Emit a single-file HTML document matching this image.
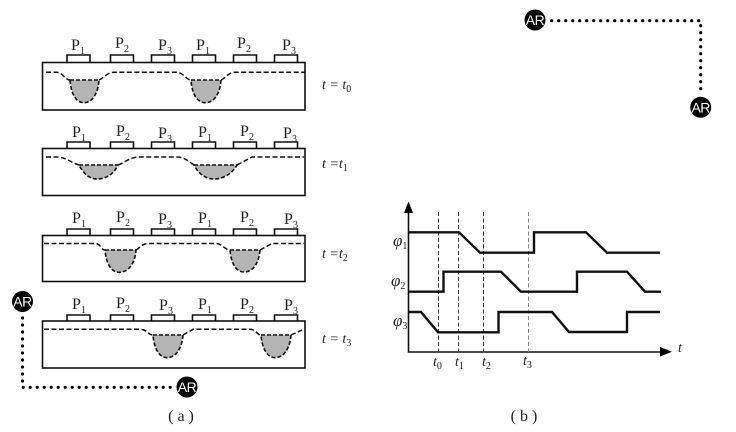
<!DOCTYPE html>
<html>
<head>
<meta charset="utf-8">
<style>
html,body{margin:0;padding:0;background:#fff}
svg{display:block}
text{font-family:"Liberation Serif",serif;fill:#222}
.p{font-size:16px;text-anchor:middle}
.s{font-size:10px;font-style:normal}
.i{font-style:italic;font-size:14px}
.f{font-style:italic;font-size:17px}
.ar{font-family:"Liberation Sans",sans-serif;font-size:14px;fill:#fff;text-anchor:middle;letter-spacing:-.5px}
.box{fill:none;stroke:#111;stroke-width:1.6}
.el{fill:none;stroke:#111;stroke-width:1.6}
.d{fill:none;stroke:#111;stroke-width:1.5;stroke-dasharray:5 2.5}
.w{fill:#b4b4b4;stroke:#111;stroke-width:1.6;stroke-dasharray:4 2}
.sig{fill:none;stroke:#111;stroke-width:2.4}
.dot{fill:none;stroke:#000;stroke-width:3.2;stroke-linecap:round;stroke-dasharray:0 7}
.cap{font-size:16px;text-anchor:middle}
</style>
</head>
<body>
<svg width="736" height="432" viewBox="0 0 736 432" xmlns="http://www.w3.org/2000/svg">

<!-- Panel 0 -->
<rect class="box" x="42.5" y="62.5" width="262.5" height="47.5"/>
<path class="el" d="M67 62.5V55H90V62.5M110.500 62.500V55H133.500V62.500M151.500 62.500V55H174.500V62.500M192.500 62.500V55H215.500V62.500M233.500 62.500V55H256.500V62.500M274.500 62.500V55H297.500V62.500"/>
<g class="p">
<text x="78" y="50">P<tspan class="s" dy="4">1</tspan></text>
<text x="122" y="48">P<tspan class="s" dy="4">2</tspan></text>
<text x="165" y="50">P<tspan class="s" dy="4">3</tspan></text>
<text x="203" y="50">P<tspan class="s" dy="4">1</tspan></text>
<text x="244" y="48">P<tspan class="s" dy="4">2</tspan></text>
<text x="289" y="50">P<tspan class="s" dy="4">3</tspan></text>
</g>
<path class="w" d="M70 80H99C98 94 92 102.700 84 102.700C76 102.700 71 94 70 80Z"/>
<path class="w" d="M191 80H221C220 94 214 102.700 205.500 102.700C197 102.700 192 94 191 80Z"/>
<path class="d" d="M46 72.300H56C63 72.300 65 80 70 80M99 80C104 78 107 72.300 114 72.300H176C184 72.300 186 80 191 80M221 80C226 78 228 72.300 235 72.300H305"/>
<text class="i" x="322" y="89">t = t<tspan class="s" dy="3">0</tspan></text>

<!-- Panel 1 -->
<rect class="box" x="42.5" y="148.500" width="262.500" height="47"/>
<path class="el" d="M67 148.500V142H90V148.500M110.500 148.500V142H133.500V148.500M151.500 148.500V142H174.500V148.500M192.500 148.500V142H215.500V148.500M233.500 148.500V142H256.500V148.500M274.500 148.500V142H297.500V148.500"/>
<g class="p">
<text x="79" y="137">P<tspan class="s" dy="4">1</tspan></text>
<text x="123" y="136">P<tspan class="s" dy="4">2</tspan></text>
<text x="165" y="138">P<tspan class="s" dy="4">3</tspan></text>
<text x="205" y="137">P<tspan class="s" dy="4">1</tspan></text>
<text x="247" y="136">P<tspan class="s" dy="4">2</tspan></text>
<text x="290" y="138">P<tspan class="s" dy="4">3</tspan></text>
</g>
<path class="w" d="M79 165H118C114 174 106 179 97 179C89 179 83 173 79 165Z"/>
<path class="w" d="M194 165H237C232 174 223 179 214 179C205 179 198 173 194 165Z"/>
<path class="d" d="M46 157H57C65 157 70 162 79 165M118 165C124 163 130 157 139 157H177C184 157 188 161 194 165M237 165L252 157H304"/>
<text class="i" x="322" y="168">t =t<tspan class="s" dy="3">1</tspan></text>

<!-- Panel 2 -->
<rect class="box" x="42.5" y="235.500" width="262.500" height="46"/>
<path class="el" d="M67 235.500V229H90V235.500M110.500 235.500V229H133.500V235.500M151.500 235.500V229H174.500V235.500M192.500 235.500V229H215.500V235.500M233.500 235.500V229H256.500V235.500M274.500 235.500V229H297.500V235.500"/>
<g class="p">
<text x="79" y="223">P<tspan class="s" dy="4">1</tspan></text>
<text x="123" y="222">P<tspan class="s" dy="4">2</tspan></text>
<text x="165" y="224">P<tspan class="s" dy="4">3</tspan></text>
<text x="205" y="223">P<tspan class="s" dy="4">1</tspan></text>
<text x="247" y="222">P<tspan class="s" dy="4">2</tspan></text>
<text x="291" y="224">P<tspan class="s" dy="4">3</tspan></text>
</g>
<path class="w" d="M105 250H136C135 263 129 272.300 119 272.300C111 272.300 106 263 105 250Z"/>
<path class="w" d="M230 250H260C259 263 253 272 244 272C236 272 231 263 230 250Z"/>
<path class="d" d="M44 243.500H95C101 243.500 101 250 105 250M136 250C140 248 142 243.500 148 243.500H216C222 243.500 225 250 230 250M260 250L272 243.500H304"/>
<text class="i" x="322" y="258">t =t<tspan class="s" dy="3">2</tspan></text>

<!-- Panel 3 -->
<rect class="box" x="42.5" y="321" width="262.500" height="47"/>
<path class="el" d="M67 321V315H90V321M110.500 321V315H133.500V321M151.500 321V315H174.500V321M192.500 321V315H215.500V321M233.500 321V315H256.500V321M274.500 321V315H297.500V321"/>
<g class="p">
<text x="79" y="309">P<tspan class="s" dy="4">1</tspan></text>
<text x="123" y="308">P<tspan class="s" dy="4">2</tspan></text>
<text x="166" y="310">P<tspan class="s" dy="4">3</tspan></text>
<text x="205" y="309">P<tspan class="s" dy="4">1</tspan></text>
<text x="247" y="309">P<tspan class="s" dy="4">2</tspan></text>
<text x="291" y="310">P<tspan class="s" dy="4">3</tspan></text>
</g>
<path class="w" d="M153 335H183C182 348 176 357.700 167 357.700C159 357.700 154 348 153 335Z"/>
<path class="w" d="M261 335H291C290 348 284 357.700 275 357.700C267 357.700 262 348 261 335Z"/>
<path class="d" d="M44 329.300H140C147 329.300 148 335 153 335M183 335L193 329.300H250C256 329.300 257 335 261 335M291 335L302 330"/>
<text class="i" x="322" y="343">t = t<tspan class="s" dy="3">3</tspan></text>

<!-- Timing chart -->
<path d="M408.500 212V352H662" fill="none" stroke="#111" stroke-width="1.6"/>
<path d="M408.500 201.500L404 213H413Z" fill="#000"/>
<path d="M672 351.700L660 347V356.500Z" fill="#000"/>
<g fill="none" stroke-width="1" stroke-dasharray="4 2.500">
<path d="M438.500 212V352" stroke="#333"/>
<path d="M458.500 212V352" stroke="#444"/>
<path d="M483.500 212V352" stroke="#333"/>
<path d="M528.500 212V352" stroke="#888"/>
</g>
<path class="sig" d="M408 232.300H459L480 252.700H534V232.300H586L607 252.700H660"/>
<path class="sig" d="M408 291.700H443.500V271.700H501L521 291.700H577V271.700H627L645 291.700H661"/>
<path class="sig" d="M408 312H421L438 332.300H498.500V312H552L569 332H627V312H660"/>
<text class="f" x="393" y="246">φ<tspan class="s" dy="3">1</tspan></text>
<text class="f" x="391" y="286">φ<tspan class="s" dy="3">2</tspan></text>
<text class="f" x="393" y="326">φ<tspan class="s" dy="3">3</tspan></text>
<text class="i" x="433" y="366">t<tspan class="s" dy="3">0</tspan></text>
<text class="i" x="455" y="366">t<tspan class="s" dy="3">1</tspan></text>
<text class="i" x="482" y="366">t<tspan class="s" dy="3">2</tspan></text>
<text class="i" x="523" y="365">t<tspan class="s" dy="3">3</tspan></text>
<text class="i" x="678" y="352">t</text>

<!-- Captions -->
<text class="cap" x="181" y="421" xml:space="preserve">( a )</text>
<text class="cap" x="524" y="421" xml:space="preserve">( b )</text>

<!-- AR connectors -->
<path class="dot" d="M551.700 20.700H700.700V90"/>
<path class="dot" d="M22.500 318V387.300H172"/>
<circle cx="535" cy="20" r="10.500" fill="#000"/>
<text class="ar" x="535" y="25">AR</text>
<circle cx="700.700" cy="107.300" r="10.500" fill="#000"/>
<text class="ar" x="700.700" y="112.300">AR</text>
<circle cx="22.500" cy="301.500" r="10.500" fill="#000"/>
<text class="ar" x="22.500" y="306.500">AR</text>
<circle cx="187" cy="387" r="10.500" fill="#000"/>
<text class="ar" x="187" y="392">AR</text>
</svg>
</body>
</html>
